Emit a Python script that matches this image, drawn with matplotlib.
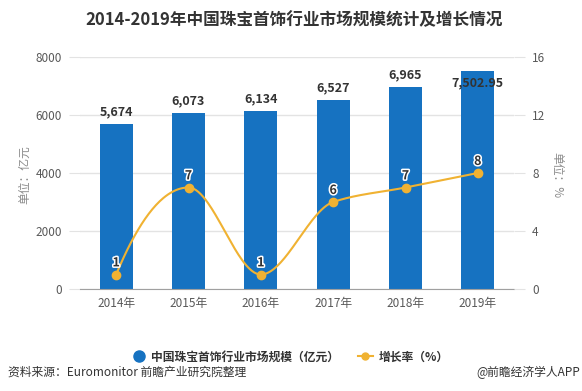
import numpy as np
import matplotlib
matplotlib.use("Agg")
import matplotlib.pyplot as plt
import matplotlib.patheffects as pe
from matplotlib.lines import Line2D

plt.rcParams['font.family'] = ['Noto Sans CJK SC', 'DejaVu Sans']

years = ['2014年', '2015年', '2016年', '2017年', '2018年', '2019年']
market_size = [5674, 6073, 6134, 6527, 6965, 7502.95]
size_labels = ['5,674', '6,073', '6,134', '6,527', '6,965', '7,502.95']
growth = [1, 7, 1, 6, 7, 8]
growth_labels = ['1', '7', '1', '6', '7', '8']

BLUE = '#1672c1'
ORANGE = '#f0b232'
GRID = '#e3e3e3'
TICK = '#595959'


def pchip(x, y, xs):
    x = np.asarray(x, float); y = np.asarray(y, float)
    h = np.diff(x); d = np.diff(y) / h
    n = len(x); m = np.zeros(n)
    for k in range(1, n - 1):
        if d[k - 1] * d[k] > 0:
            w1 = 2 * h[k] + h[k - 1]; w2 = h[k] + 2 * h[k - 1]
            m[k] = (w1 + w2) / (w1 / d[k - 1] + w2 / d[k])
    def endslope(h0, h1, d0, d1):
        s = ((2 * h0 + h1) * d0 - h0 * d1) / (h0 + h1)
        if np.sign(s) != np.sign(d0):
            s = 0
        elif np.sign(d0) != np.sign(d1) and abs(s) > abs(3 * d0):
            s = 3 * d0
        return s
    m[0] = endslope(h[0], h[1], d[0], d[1])
    m[-1] = endslope(h[-1], h[-2], d[-1], d[-2])
    out = np.empty_like(xs)
    for i, xv in enumerate(xs):
        k = min(np.searchsorted(x, xv, side='right') - 1, n - 2)
        k = max(k, 0)
        t = (xv - x[k]) / h[k]
        h00 = 2 * t**3 - 3 * t**2 + 1; h10 = t**3 - 2 * t**2 + t
        h01 = -2 * t**3 + 3 * t**2; h11 = t**3 - t**2
        out[i] = h00 * y[k] + h10 * h[k] * m[k] + h01 * y[k + 1] + h11 * h[k] * m[k + 1]
    return out


fig = plt.figure(figsize=(5.82, 3.91), dpi=100)
ax = fig.add_axes([80 / 582, 102 / 391, 434 / 582, 232 / 391])
ax2 = ax.twinx()

x = np.arange(len(years))
ax.bar(x, market_size, width=0.46, color=BLUE, zorder=2)
ax.set_xlim(-0.5, len(years) - 0.5)
ax.set_ylim(0, 8000)
ax.set_yticks([0, 2000, 4000, 6000, 8000])
ax.set_xticks(x)
ax.set_xticklabels(years)
ax.yaxis.grid(True, color=GRID, linewidth=1, zorder=0)
ax.set_axisbelow(True)
for s in ['top', 'right', 'left']:
    ax.spines[s].set_visible(False)
ax.spines['bottom'].set_color('#a0a0a0')
ax.tick_params(axis='y', length=8, color=GRID, pad=5, labelsize=8.5, labelcolor=TICK)
ax.tick_params(axis='x', length=0, pad=6, labelsize=8.5, labelcolor=TICK)

for xi, v, lab in zip(x, market_size, size_labels):
    ty = v + 420 if v + 420 < 7800 else v - 390
    ax.text(xi, ty, lab, ha='center', va='center', fontsize=9, fontweight='bold',
            color='#333333', zorder=5)

xs = np.linspace(0, len(years) - 1, 300)
ax2.plot(xs, pchip(x, growth, xs), color=ORANGE, linewidth=1.5, zorder=3)
ax2.plot(x, growth, 'o', color=ORANGE, markersize=6, zorder=4)
for xi, v, lab in zip(x, growth, growth_labels):
    ax2.text(xi, v + 0.8, lab, ha='center', va='center', fontsize=9, fontweight='bold',
             color='#333333', zorder=5,
             path_effects=[pe.withStroke(linewidth=2.2, foreground='white')])
ax2.set_ylim(0, 16)
ax2.set_yticks([0, 4, 8, 12, 16])
for s in ['top', 'right', 'left', 'bottom']:
    ax2.spines[s].set_visible(False)
ax2.tick_params(axis='y', length=8, color=GRID, pad=5, labelsize=8.5, labelcolor=TICK)

fig.text(25 / 582, 1 - 175 / 391, '单位：亿元', rotation=90, ha='center', va='center',
         fontsize=8.5, color='#8a8a8a')
fig.text(557 / 582, 1 - 175 / 391, '单位：%', rotation=-90, ha='center', va='center',
         fontsize=8.5, color='#8a8a8a')

fig.text(294 / 582, 1 - 20 / 391, '2014-2019年中国珠宝首饰行业市场规模统计及增长情况',
         ha='center', va='center', fontsize=12, fontweight='bold', color='#333333')

handles = [
    Line2D([], [], marker='o', linestyle='none', color=BLUE, markersize=8),
    Line2D([], [], marker='o', linestyle='-', color=ORANGE, markersize=5, linewidth=1.5),
]
fig.legend(handles, ['中国珠宝首饰行业市场规模（亿元）', '增长率（%）'], loc='center',
           bbox_to_anchor=(290 / 582, 1 - 357 / 391), ncol=2, frameon=False,
           prop={'size': 8.5, 'weight': 'bold'}, handlelength=1.2, columnspacing=1.6,
           handletextpad=0.5, labelcolor='#333333')

fig.text(8 / 582, 1 - 372 / 391, '资料来源：Euromonitor 前瞻产业研究院整理', ha='left', va='center',
         fontsize=8.5, color='#333333')
fig.text(580 / 582, 1 - 372 / 391, '@前瞻经济学人APP', ha='right', va='center',
         fontsize=8.5, color='#333333')

fig.savefig('out.png', dpi=100)
